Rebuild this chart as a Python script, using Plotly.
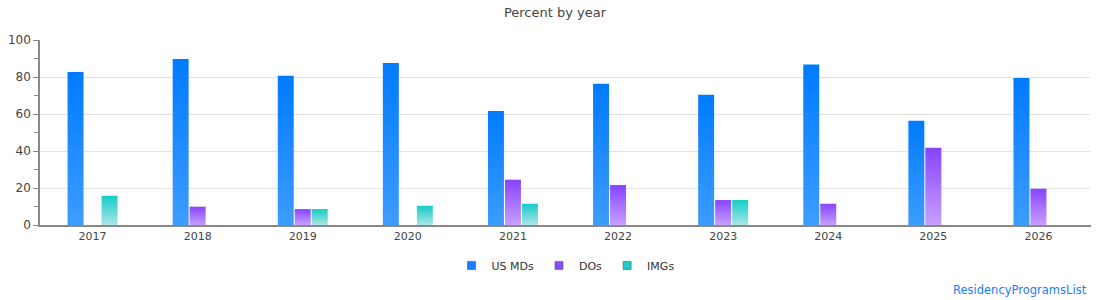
import plotly.graph_objects as go

years = ["2017", "2018", "2019", "2020", "2021", "2022", "2023", "2024", "2025", "2026"]
us_mds = [82.7, 89.7, 80.7, 87.6, 61.6, 76.4, 70.4, 86.7, 56.4, 79.5]
dos = [None, 9.9, 8.6, None, 24.5, 21.6, 13.5, 11.5, 41.8, 19.6]
imgs = [15.8, None, 8.6, 10.4, 11.5, None, 13.5, None, None, None]

series = [
    ("US MDs", us_mds, "#1a7dff"),
    ("DOs", dos, "#8a4dff"),
    ("IMGs", imgs, "#1ccdc8"),
]

fig = go.Figure()
for name, vals, col in series:
    fig.add_trace(go.Bar(
        x=years, y=vals, name=name,
        marker=dict(color=col, line=dict(width=0)),
        hoverinfo="x+y+name", showlegend=False, legendgroup=name,
    ))
# legend entries with small square swatches
for name, vals, col in series:
    fig.add_trace(go.Scatter(
        x=[None], y=[None], mode="markers", name=name, legendgroup=name,
        marker=dict(symbol="square", size=8, color=col, line=dict(width=0.6, color="#555")),
        showlegend=True, hoverinfo="skip",
    ))

font_family = "DejaVu Sans, Verdana, sans-serif"
fig.update_layout(
    width=1110, height=300,
    margin=dict(l=40, r=19, t=40, b=75, autoexpand=False),
    paper_bgcolor="white", plot_bgcolor="white",
    barmode="group", bargap=0.515, bargroupgap=0.06,
    font=dict(family=font_family, size=11, color="#444"),
    title=dict(text="Percent by year", x=0.5, xanchor="center", y=0.96, yanchor="middle",
               font=dict(size=13, color="#444", family=font_family)),
    showlegend=True,
    legend=dict(orientation="h", x=0.5, xanchor="center", y=-0.14, yanchor="top",
                font=dict(size=11, color="#333", family=font_family),
                itemwidth=30, traceorder="normal"),
    xaxis=dict(showline=True, linecolor="#888", linewidth=1.5, ticks="", automargin=False,
               showgrid=False, tickfont=dict(size=11, color="#444")),
    yaxis=dict(range=[0, 100], dtick=20, showline=True, linecolor="#888", linewidth=1.5,
               ticks="outside", ticklen=5, tickcolor="#888", showgrid=True, automargin=False,
               gridcolor="#e2e2e2", gridwidth=1.3, zeroline=False,
               tickfont=dict(size=12, color="#444"),
               minor=dict(dtick=10, ticks="outside", ticklen=4, tickcolor="#888", showgrid=False)),
    annotations=[dict(text="ResidencyProgramsList", xref="paper", yref="paper",
                      x=1.0, y=-0.35, xanchor="right", yanchor="middle", showarrow=False,
                      xshift=-2,
                      font=dict(size=11.5, color="#1a7cff", family=font_family))],
)

post = """
var gd = document.getElementById('{plot_id}');
var grads = [['gradMD','#007bff','#3d9cff'],['gradDO','#8843ff','#c6a0ff'],['gradIMG','#15ccc8','#aae6e6']];
function applyGrad(){
  var svg = gd.querySelector('svg.main-svg');
  if(!svg) return;
  var ns = 'http://www.w3.org/2000/svg';
  var defs = svg.querySelector('defs');
  if(!defs){ defs = document.createElementNS(ns,'defs'); svg.insertBefore(defs, svg.firstChild); }
  grads.forEach(function(g){
    if(document.getElementById(g[0])) return;
    var lg = document.createElementNS(ns,'linearGradient');
    lg.setAttribute('id', g[0]);
    lg.setAttribute('x1','0'); lg.setAttribute('y1','0');
    lg.setAttribute('x2','0'); lg.setAttribute('y2','1');
    var s1 = document.createElementNS(ns,'stop'); s1.setAttribute('offset','0'); s1.setAttribute('stop-color', g[1]);
    var s2 = document.createElementNS(ns,'stop'); s2.setAttribute('offset','1'); s2.setAttribute('stop-color', g[2]);
    lg.appendChild(s1); lg.appendChild(s2); defs.appendChild(lg);
  });
  var traces = gd.querySelectorAll('.barlayer .trace');
  traces.forEach(function(t, i){
    t.querySelectorAll('path').forEach(function(p){ p.style.fill = 'url(#' + grads[i][0] + ')'; });
  });
}
applyGrad();
gd.on('plotly_afterplot', applyGrad);
"""

fig.write_html("out.html", post_script=post)
